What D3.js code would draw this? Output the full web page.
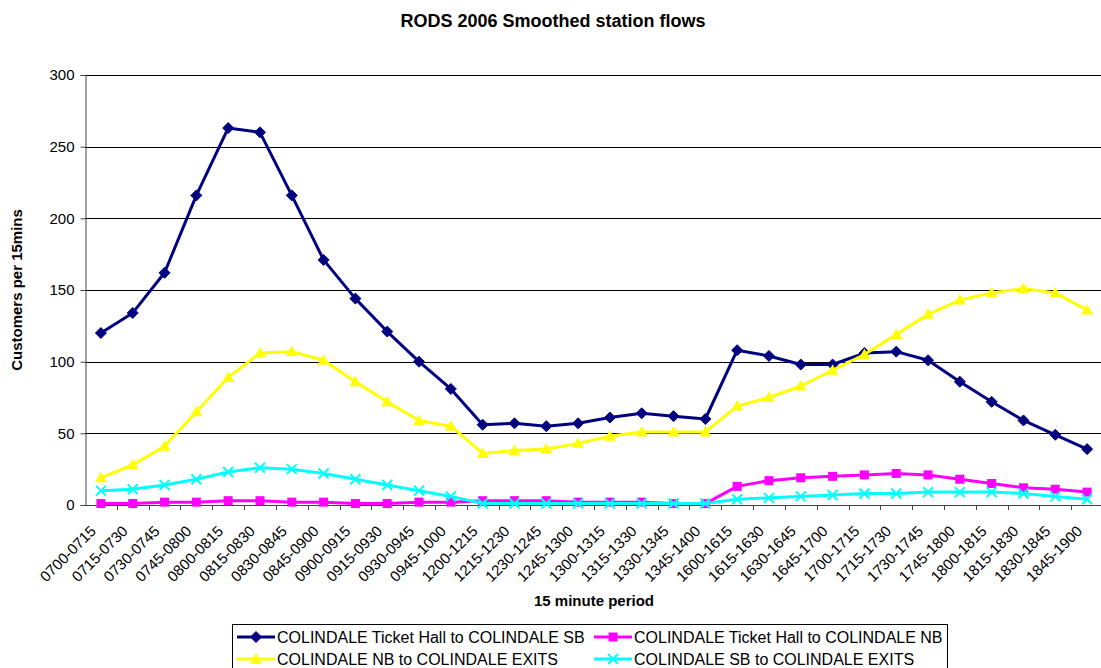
<!DOCTYPE html>
<html>
<head>
<meta charset="utf-8">
<script src="https://cdn.jsdelivr.net/npm/d3@7"></script>
<style>
  html, body { margin: 0; padding: 0; background: #fff; }
  svg { display: block; font-family: Arial, "Liberation Sans", sans-serif; }
</style>
</head>
<body>
<svg id="chart" width="1101" height="668"></svg>
<script>
// 15 minute periods (morning, midday and evening survey windows)
const periods = [
  "0700-0715","0715-0730","0730-0745","0745-0800","0800-0815","0815-0830",
  "0830-0845","0845-0900","0900-0915","0915-0930","0930-0945","0945-1000",
  "1200-1215","1215-1230","1230-1245","1245-1300","1300-1315","1315-1330",
  "1330-1345","1345-1400","1600-1615","1615-1630","1630-1645","1645-1700",
  "1700-1715","1715-1730","1730-1745","1745-1800","1800-1815","1815-1830",
  "1830-1845","1845-1900"
];

const hallToSB = [120,134,162,216,263,260,216,171,144,121,100,81,
                  56,57,55,57,61,64,62,60,
                  108,104,98,98,106,107,101,86,72,59,49,39];
const hallToNB = [1,1,2,2,3,3,2,2,1,1,2,2,
                  3,3,3,2,2,2,1,1,
                  13,17,19,20,21,22,21,18,15,12,11,9];
const nbToExits = [19,28,41,65,89,106,107,101,86,72,59,55,
                   36,38,39,43,48,51,51,51,
                   69,75,83,94,105,119,133,143,148,151,148,136];
const sbToExits = [10,11,14,18,23,26,25,22,18,14,10,6,
                   1,1,1,1,1,1,1,1,
                   4,5,6,7,8,8,9,9,9,8,6,4];

const yTicks = [0,50,100,150,200,250,300];

const series = [
  { name: "COLINDALE Ticket Hall to COLINDALE SB", values: hallToSB,  color: "#000080", marker: "diamond" },
  { name: "COLINDALE Ticket Hall to COLINDALE NB", values: hallToNB,  color: "#FF00FF", marker: "square" },
  { name: "COLINDALE NB to COLINDALE EXITS",       values: nbToExits, color: "#FFFF00", marker: "triangle" },
  { name: "COLINDALE SB to COLINDALE EXITS",       values: sbToExits, color: "#00FFFF", marker: "cross" }
];

const plot = { left: 85, right: 1103, top: 75, bottom: 505 };

const svg = d3.select("#chart");
svg.append("rect").attr("width", 1101).attr("height", 668).attr("fill", "#fff");

const x = d3.scaleBand().domain(periods).range([plot.left, plot.right]);
const y = d3.scaleLinear().domain([0, 300]).range([plot.bottom, plot.top]);

// Title
svg.append("text")
  .attr("x", 553).attr("y", 27)
  .attr("text-anchor", "middle")
  .attr("font-size", 18).attr("font-weight", "bold")
  .text("RODS 2006 Smoothed station flows");

// Horizontal gridlines
svg.append("g")
  .selectAll("line")
  .data(yTicks.filter(d => d > 0))
  .join("line")
  .attr("x1", plot.left).attr("x2", plot.right)
  .attr("y1", d => Math.round(y(d)) + 0.5).attr("y2", d => Math.round(y(d)) + 0.5)
  .attr("stroke", "#000").attr("stroke-width", 1);

// Y axis
const yAxis = svg.append("g")
  .attr("transform", `translate(${plot.left + 0.5},0)`)
  .call(d3.axisLeft(y).tickValues(yTicks).tickSize(5).tickPadding(6));
yAxis.select(".domain").attr("stroke", "#444");
yAxis.selectAll(".tick line").attr("stroke", "#444");
yAxis.selectAll("text").attr("font-size", 15).attr("font-family", "Arial, 'Liberation Sans', sans-serif").attr("fill", "#000");

// X axis: ticks at band boundaries
const xAxisG = svg.append("g");
xAxisG.append("line")
  .attr("x1", plot.left).attr("x2", plot.right)
  .attr("y1", plot.bottom + 0.5).attr("y2", plot.bottom + 0.5)
  .attr("stroke", "#444");
xAxisG.selectAll("line.tick")
  .data(periods)
  .join("line")
  .attr("class", "tick")
  .attr("x1", d => Math.round(x(d) + x.bandwidth()) + 0.5)
  .attr("x2", d => Math.round(x(d) + x.bandwidth()) + 0.5)
  .attr("y1", plot.bottom).attr("y2", plot.bottom + 5)
  .attr("stroke", "#444");
xAxisG.selectAll("text")
  .data(periods)
  .join("text")
  .attr("transform", d => `translate(${x(d) + x.bandwidth() / 2 - 4},${plot.bottom + 27}) rotate(-45)`)
  .attr("text-anchor", "end")
  .attr("font-size", 15)
  .text(d => d);

// Axis titles
svg.append("text")
  .attr("x", (plot.left + plot.right) / 2).attr("y", 606)
  .attr("text-anchor", "middle")
  .attr("font-size", 15).attr("font-weight", "bold")
  .text("15 minute period");
svg.append("text")
  .attr("transform", `translate(22,${(plot.top + plot.bottom) / 2}) rotate(-90)`)
  .attr("text-anchor", "middle")
  .attr("font-size", 15).attr("font-weight", "bold")
  .text("Customers per 15mins");

// Marker shapes
function drawMarker(g, type, color) {
  if (type === "diamond") {
    g.append("path").attr("d", "M0,-5.5L5.5,0L0,5.5L-5.5,0Z").attr("fill", color).attr("stroke", color).attr("stroke-width", 1);
  } else if (type === "square") {
    g.append("rect").attr("x", -4.5).attr("y", -4.5).attr("width", 9).attr("height", 9).attr("fill", color);
  } else if (type === "triangle") {
    g.append("path").attr("d", "M0,-6L6,4.5L-6,4.5Z").attr("fill", color);
  } else if (type === "cross") {
    g.append("path").attr("d", "M-5,-5L5,5M-5,5L5,-5").attr("stroke", color).attr("stroke-width", 2).attr("fill", "none");
  }
}

const line = d3.line()
  .x((d, i) => x(periods[i]) + x.bandwidth() / 2)
  .y(d => y(d));

series.forEach(s => {
  const g = svg.append("g");
  g.append("path")
    .attr("d", line(s.values))
    .attr("fill", "none")
    .attr("stroke", s.color)
    .attr("stroke-width", 3)
    .attr("stroke-linejoin", "round");
  s.values.forEach((v, i) => {
    const m = g.append("g").attr("transform", `translate(${x(periods[i]) + x.bandwidth() / 2},${y(v)})`);
    drawMarker(m, s.marker, s.color);
  });
});

// Legend
const legend = svg.append("g");
legend.append("rect")
  .attr("x", 232.5).attr("y", 624.5).attr("width", 715).attr("height", 60)
  .attr("fill", "#fff").attr("stroke", "#000").attr("stroke-width", 1);
const legendPos = [
  { x: 237, y: 637 }, { x: 594, y: 637 },
  { x: 237, y: 659 }, { x: 594, y: 659 }
];
series.forEach((s, i) => {
  const p = legendPos[i];
  const g = legend.append("g").attr("transform", `translate(${p.x},${p.y})`);
  g.append("line").attr("x1", 0).attr("x2", 38).attr("y1", 0).attr("y2", 0)
    .attr("stroke", s.color).attr("stroke-width", 3);
  drawMarker(g.append("g").attr("transform", "translate(19,0)"), s.marker, s.color);
  g.append("text").attr("x", 40).attr("y", 6).attr("font-size", 16).text(s.name);
});
</script>
</body>
</html>
